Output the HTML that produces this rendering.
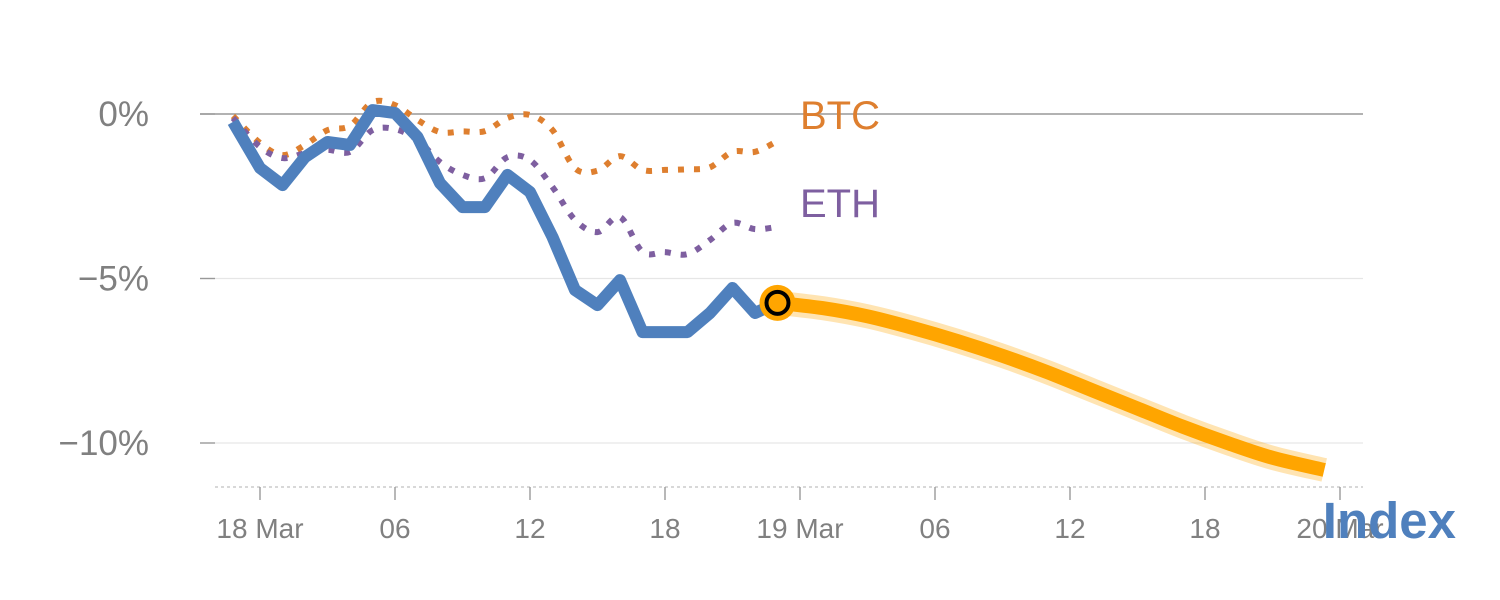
<!DOCTYPE html>
<html><head><meta charset="utf-8"><style>
html,body{margin:0;padding:0;background:#fff;}
svg{display:block;font-family:"Liberation Sans",Arial,sans-serif;}
</style></head><body>
<svg id="chart" width="1500" height="600" viewBox="0 0 1500 600">
<g id="grid"></g>
<g id="series"></g>
<g id="labels"></g>
</svg>
<script>
const hours = [-1.2,0,1,2,3,4,5,6,7,8,9,10,11,12,13,14,15,16,17,18,19,20,21,22,23];
const indexValues = [-0.24,-1.64,-2.16,-1.31,-0.85,-0.94,0.12,0.03,-0.70,-2.10,-2.83,-2.83,-1.85,-2.37,-3.74,-5.35,-5.81,-5.05,-6.63,-6.63,-6.63,-6.05,-5.29,-6.05,-5.74];
const btcValues = [-0.06,-0.88,-1.25,-0.94,-0.49,-0.36,0.36,0.27,-0.18,-0.55,-0.53,-0.52,-0.12,-0.03,-0.49,-1.65,-1.72,-1.28,-1.70,-1.70,-1.68,-1.62,-1.15,-1.15,-0.82];
const ethValues = [-0.12,-1.0,-1.34,-1.19,-1.09,-1.15,-0.49,-0.46,-0.79,-1.46,-1.85,-1.95,-1.31,-1.40,-2.22,-3.22,-3.59,-3.13,-4.19,-4.20,-4.26,-3.83,-3.31,-3.50,-3.43];
const forecastHours = [23,25,27,29,31,33,35,37,39,41,43,45,47.3];
const forecastValues = [-5.74,-5.9,-6.15,-6.5,-6.9,-7.35,-7.85,-8.4,-8.95,-9.5,-10.0,-10.45,-10.82];
const yTicks = [0,-5,-10];
const yTickLabels = ["0%","\u22125%","\u221210%"];
const xTicks = [0,6,12,18,24,30,36,42,48];
const xTickLabels = ["18 Mar","06","12","18","19 Mar","06","12","18","20 Mar"];

const NS="http://www.w3.org/2000/svg";
const xs = h => 260 + h*22.5;
const ys = v => 114 - v*32.9;
function mk(tag, attrs, parent){const e=document.createElementNS(NS,tag);for(const k in attrs)e.setAttribute(k,attrs[k]);parent.appendChild(e);return e;}
const grid=document.getElementById('grid'), series=document.getElementById('series'), labels=document.getElementById('labels');

yTicks.forEach((t,i)=>{
  const y=ys(t);
  const l=mk('line',{x1:t===0?200:215,x2:1363,y1:y,y2:y,stroke:t===0?'#999':'#e6e6e6','stroke-width':t===0?1.6:1.2},grid);
  
  
  const tk=mk('line',{x1:200,x2:215,y1:y,y2:y,stroke:'#999','stroke-width':1.4},grid);
  
  
  const tx=mk('text',{x:149,y:y+12,'text-anchor':'end','font-size':35,fill:'#808080'},labels);
  tx.textContent=yTickLabels[i];
  
  
});
const base=mk('line',{x1:215,x2:1363,y1:487,y2:487,stroke:'#ccc','stroke-width':1.5,'stroke-dasharray':'3 3'},grid);


xTicks.forEach((t,i)=>{
  const x=xs(t);
  const tk=mk('line',{x1:x,x2:x,y1:487,y2:500,stroke:'#999','stroke-width':1.4},grid);
  
  
  const tx=mk('text',{x:x,y:538,'text-anchor':'middle','font-size':28,fill:'#808080'},labels);
  tx.textContent=xTickLabels[i];
  
  
});
function pts(hs,vs){return hs.map((h,i)=>xs(h).toFixed(1)+','+ys(vs[i]).toFixed(1)).join(' ');}
function smooth(hs,vs){
  const p=hs.map((h,i)=>[xs(h),ys(vs[i])]);let d='M'+p[0][0]+','+p[0][1];
  for(let i=0;i<p.length-1;i++){const p0=p[i-1]||p[i],p1=p[i],p2=p[i+1],p3=p[i+2]||p2;
    d+=` C${p1[0]+(p2[0]-p0[0])/6},${p1[1]+(p2[1]-p0[1])/6} ${p2[0]-(p3[0]-p1[0])/6},${p2[1]-(p3[1]-p1[1])/6} ${p2[0]},${p2[1]}`;}
  return d;}
const btc=mk('path',{d:smooth(hours,btcValues),fill:'none',stroke:'#de7f2f','stroke-width':6,'stroke-dasharray':'6 10'},series);


const eth=mk('path',{d:smooth(hours,ethValues),fill:'none',stroke:'#7e5fa0','stroke-width':6,'stroke-dasharray':'6 10'},series);


const idx=mk('polyline',{points:pts(hours,indexValues),fill:'none',stroke:'#4f80bd','stroke-width':12,'stroke-linejoin':'round'},series);


const fh=mk('path',{d:smooth(forecastHours,forecastValues),fill:'none',stroke:'#ffa500','stroke-opacity':0.3,'stroke-width':24},series);


const fl=mk('path',{d:smooth(forecastHours,forecastValues),fill:'none',stroke:'#ffa500','stroke-width':14},series);


const mx=xs(forecastHours[0]), my=ys(forecastValues[0]);
const m1=mk('circle',{cx:mx,cy:my,r:18,fill:'#ffa500'},series);


const m2=mk('circle',{cx:mx,cy:my,r:11,fill:'#ffa500',stroke:'#000','stroke-width':4},series);


</script>
<svg style="position:absolute;left:0;top:0" width="1500" height="600">
<text x="800" y="129" font-size="40" fill="#de7f2f" font-family="Liberation Sans,sans-serif">BTC</text>
<text x="800" y="217" font-size="40" fill="#7e5fa0" font-family="Liberation Sans,sans-serif">ETH</text>
<text x="1456" y="538" text-anchor="end" font-size="51" font-weight="bold" fill="#4f80bd" font-family="Liberation Sans,sans-serif">Index</text>
</svg>
</body></html>
